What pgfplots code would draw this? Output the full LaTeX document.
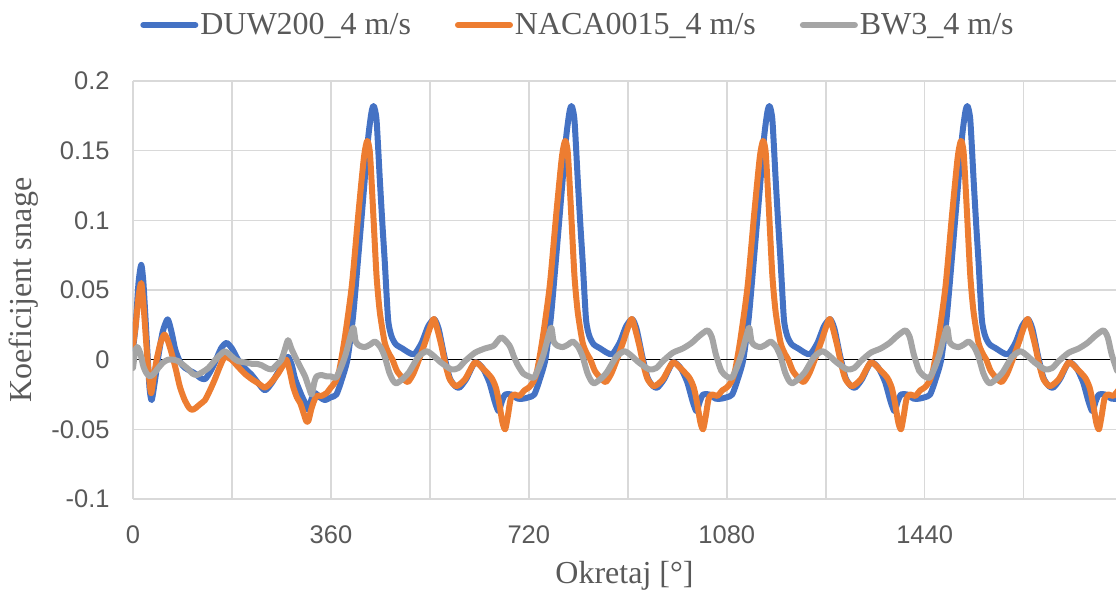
\documentclass[border=0pt]{standalone}
\usepackage{fontspec}
\setmainfont{Liberation Serif}
\newfontfamily\arialfont{Liberation Sans}
\usepackage{pgfplots}
\pgfplotsset{compat=1.18}
\definecolor{cblue}{HTML}{4472C4}
\definecolor{corange}{HTML}{ED7D31}
\definecolor{cgray}{HTML}{A5A5A5}
\definecolor{cgrid}{HTML}{D9D9D9}
\definecolor{ctext}{HTML}{595959}
\begin{document}
\begin{tikzpicture}
\begin{axis}[
 scale only axis, width=491.5pt, height=209pt,
 xmin=0, xmax=1788, ymin=-0.1, ymax=0.2,
 axis line style={draw=none},
 major tick length=0pt,
 xtick={0,180,...,1620},
 xticklabels={0,,360,,720,,1080,,1440,},
 ytick={-0.1,-0.05,0,0.05,0.1,0.15,0.2},
 yticklabels={-0.1,-0.05,0,0.05,0.1,0.15,0.2},
 grid=major, major grid style={cgrid, line width=0.8pt},
 extra y ticks={0}, extra y tick labels={},
 extra y tick style={major grid style={black, line width=0.6pt}},
 ticklabel style={font=\arialfont\fontsize{12.75}{14}\selectfont, text=ctext, inner sep=0pt},
 xticklabel style={yshift=-13pt},
 yticklabel style={xshift=-11.5pt},
 xlabel={Okretaj [°]}, ylabel={Koeficijent snage},
 label style={font=\fontsize{16}{19}\selectfont, text=ctext, inner sep=0pt},
 xlabel style={at={(axis description cs:0.5,-0.148)}, anchor=north},
 ylabel style={at={(axis description cs:-0.0956,0.5)}, anchor=south},
 legend columns=3,
 legend style={at={(axis description cs:0.4527,1.134)}, anchor=center, draw=none, fill=none,
   font=\fontsize{16}{19}\selectfont, text=ctext, nodes={inner sep=1pt},
   /tikz/every even column/.append style={column sep=21pt}},
 legend image code/.code={\draw[#1, line width=3pt, line cap=round] (0pt,0pt) -- (26pt,0pt);},
 every axis plot/.append style={line width=3pt, smooth, tension=0.4, line join=round, line cap=round},
]
\addplot[cblue] coordinates {
(0,0.008)(5,0.025)(10,0.055)(15,0.068)(19,0.055)(25,0.014)(30,-0.020)(34,-0.029)(40,-0.015)(46,0.002)(54,0.020)(63,0.029)(70,0.020)(77,0.007)(86,-0.002)(95,-0.006)(104,-0.008)(113,-0.010)(122,-0.013)(131,-0.014)(140,-0.009)(149,-0.002)(160,0.008)(170,0.012)(180,0.008)(191,0.000)(203,-0.006)(216,-0.011)(228,-0.017)(240,-0.022)(252,-0.017)(264,-0.009)(275,-0.002)(282,0.002)(289,-0.004)(295,-0.014)(307,-0.026)(313,-0.031)(319,-0.036)(325,-0.028)(331,-0.024)(340,-0.027)(349,-0.029)
(360,-0.027)(370,-0.025)(380,-0.014)(390,0.000)(400,0.030)(410,0.075)(420,0.122)(428,0.160)(434,0.178)(438,0.182)(443,0.172)(449,0.129)(454,0.095)(458,0.070)(464,0.029)(470,0.017)(478,0.011)(490,0.008)(502,0.005)(512,0.004)(525,0.012)(537,0.024)(548,0.029)(556,0.022)(566,0.003)(576,-0.013)(586,-0.019)(594,-0.020)(606,-0.014)(622,-0.002)(636,-0.006)(648,-0.016)(658,-0.030)(665,-0.037)(671,-0.030)(677,-0.025)(688,-0.025)(700,-0.028)(710,-0.028)
(720,-0.027)(730,-0.025)(740,-0.014)(750,0.000)(760,0.030)(770,0.075)(780,0.122)(788,0.160)(794,0.178)(798,0.182)(803,0.172)(809,0.129)(814,0.095)(818,0.070)(824,0.029)(830,0.017)(838,0.011)(850,0.008)(862,0.005)(872,0.004)(885,0.012)(897,0.024)(908,0.029)(916,0.022)(926,0.003)(936,-0.013)(946,-0.019)(954,-0.020)(966,-0.014)(982,-0.002)(996,-0.006)(1008,-0.016)(1018,-0.030)(1025,-0.037)(1031,-0.030)(1037,-0.025)(1048,-0.025)(1060,-0.028)(1070,-0.028)
(1080,-0.027)(1090,-0.025)(1100,-0.014)(1110,0.000)(1120,0.030)(1130,0.075)(1140,0.122)(1148,0.160)(1154,0.178)(1158,0.182)(1163,0.172)(1169,0.129)(1174,0.095)(1178,0.070)(1184,0.029)(1190,0.017)(1198,0.011)(1210,0.008)(1222,0.005)(1232,0.004)(1245,0.012)(1257,0.024)(1268,0.029)(1276,0.022)(1286,0.003)(1296,-0.013)(1306,-0.019)(1314,-0.020)(1326,-0.014)(1342,-0.002)(1356,-0.006)(1368,-0.016)(1378,-0.030)(1385,-0.037)(1391,-0.030)(1397,-0.025)(1408,-0.025)(1420,-0.028)(1430,-0.028)
(1440,-0.027)(1450,-0.025)(1460,-0.014)(1470,0.000)(1480,0.030)(1490,0.075)(1500,0.122)(1508,0.160)(1514,0.178)(1518,0.182)(1523,0.172)(1529,0.129)(1534,0.095)(1538,0.070)(1544,0.029)(1550,0.017)(1558,0.011)(1570,0.008)(1582,0.005)(1592,0.004)(1605,0.012)(1617,0.024)(1628,0.029)(1636,0.022)(1646,0.003)(1656,-0.013)(1666,-0.019)(1674,-0.020)(1686,-0.014)(1702,-0.002)(1716,-0.006)(1728,-0.016)(1738,-0.030)(1745,-0.037)(1751,-0.030)(1757,-0.025)(1768,-0.025)(1780,-0.028)(1790,-0.028)
};
\addlegendentry{DUW200\_4 m/s}
\addplot[corange] coordinates {
(0,0.010)(5,0.025)(10,0.045)(15,0.055)(19,0.040)(25,0.007)(29,-0.012)(33,-0.024)(38,-0.012)(43,0.000)(50,0.012)(57,0.018)(63,0.014)(70,0.005)(78,-0.007)(85,-0.019)(93,-0.028)(101,-0.034)(107,-0.036)(113,-0.035)(122,-0.032)(131,-0.029)(140,-0.022)(149,-0.014)(158,-0.005)(167,0.002)(179,0.000)(191,-0.005)(203,-0.010)(216,-0.014)(228,-0.017)(240,-0.020)(252,-0.016)(264,-0.010)(273,-0.004)(279,0.000)(285,-0.008)(291,-0.019)(298,-0.027)(304,-0.031)(310,-0.038)(315,-0.044)(319,-0.044)(324,-0.036)(328,-0.031)(334,-0.026)(343,-0.026)(352,-0.024)
(360,-0.020)(368,-0.016)(375,-0.008)(385,0.015)(398,0.053)(410,0.105)(420,0.145)(426,0.157)(431,0.148)(437,0.105)(443,0.060)(449,0.034)(458,0.012)(466,0.004)(472,0.000)(480,-0.008)(490,-0.013)(500,-0.016)(510,-0.010)(520,0.000)(531,0.012)(546,0.029)(552,0.024)(561,0.010)(568,-0.003)(576,-0.014)(588,-0.019)(604,-0.014)(622,-0.002)(638,-0.007)(652,-0.013)(660,-0.020)(666,-0.031)(672,-0.045)(677,-0.050)(682,-0.040)(687,-0.028)(693,-0.025)(703,-0.026)(712,-0.022)
(720,-0.020)(728,-0.016)(735,-0.008)(745,0.015)(758,0.053)(770,0.105)(780,0.145)(786,0.157)(791,0.148)(797,0.105)(803,0.060)(809,0.034)(818,0.012)(826,0.004)(832,0.000)(840,-0.008)(850,-0.013)(860,-0.016)(870,-0.010)(880,0.000)(891,0.012)(906,0.029)(912,0.024)(921,0.010)(928,-0.003)(936,-0.014)(948,-0.019)(964,-0.014)(982,-0.002)(998,-0.007)(1012,-0.013)(1020,-0.020)(1026,-0.031)(1032,-0.045)(1037,-0.050)(1042,-0.040)(1047,-0.028)(1053,-0.025)(1063,-0.026)(1072,-0.022)
(1080,-0.020)(1088,-0.016)(1095,-0.008)(1105,0.015)(1118,0.053)(1130,0.105)(1140,0.145)(1146,0.157)(1151,0.148)(1157,0.105)(1163,0.060)(1169,0.034)(1178,0.012)(1186,0.004)(1192,0.000)(1200,-0.008)(1210,-0.013)(1220,-0.016)(1230,-0.010)(1240,0.000)(1251,0.012)(1266,0.029)(1272,0.024)(1281,0.010)(1288,-0.003)(1296,-0.014)(1308,-0.019)(1324,-0.014)(1342,-0.002)(1358,-0.007)(1372,-0.013)(1380,-0.020)(1386,-0.031)(1392,-0.045)(1397,-0.050)(1402,-0.040)(1407,-0.028)(1413,-0.025)(1423,-0.026)(1432,-0.022)
(1440,-0.020)(1448,-0.016)(1455,-0.008)(1465,0.015)(1478,0.053)(1490,0.105)(1500,0.145)(1506,0.157)(1511,0.148)(1517,0.105)(1523,0.060)(1529,0.034)(1538,0.012)(1546,0.004)(1552,0.000)(1560,-0.008)(1570,-0.013)(1580,-0.016)(1590,-0.010)(1600,0.000)(1611,0.012)(1626,0.029)(1632,0.024)(1641,0.010)(1648,-0.003)(1656,-0.014)(1668,-0.019)(1684,-0.014)(1702,-0.002)(1718,-0.007)(1732,-0.013)(1740,-0.020)(1746,-0.031)(1752,-0.045)(1757,-0.050)(1762,-0.040)(1767,-0.028)(1773,-0.025)(1783,-0.026)(1792,-0.022)
};
\addlegendentry{NACA0015\_4 m/s}
\addplot[cgray] coordinates {
(0,-0.006)(4,0.006)(8,0.009)(13,0.005)(19,-0.005)(25,-0.010)(31,-0.012)(38,-0.010)(46,-0.006)(55,-0.002)(64,0.000)(73,0.000)(82,-0.001)(92,-0.004)(101,-0.007)(108,-0.010)(116,-0.011)(126,-0.009)(137,-0.006)(150,0.000)(160,0.004)(167,0.006)(175,0.004)(183,0.001)(191,-0.001)(204,-0.002)(216,-0.003)(225,-0.003)(234,-0.004)(243,-0.006)(252,-0.007)(261,-0.004)(270,0.000)(276,0.007)(282,0.014)(288,0.008)(295,0.002)(304,-0.005)(313,-0.012)(320,-0.020)(325,-0.025)(330,-0.016)(334,-0.012)(343,-0.011)(352,-0.012)
(360,-0.012)(369,-0.013)(378,-0.006)(387,0.004)(395,0.016)(401,0.023)(405,0.013)(412,0.010)(422,0.009)(432,0.011)(440,0.013)(450,0.009)(458,0.002)(466,-0.009)(473,-0.015)(479,-0.017)(490,-0.014)(502,-0.009)(519,0.002)(534,0.006)(546,0.003)(560,-0.002)(579,-0.007)(592,-0.006)(604,-0.001)(622,0.005)(640,0.008)(656,0.010)(670,0.016)(685,0.010)(693,0.002)(700,-0.004)(710,-0.010)
(720,-0.012)(729,-0.013)(738,-0.006)(747,0.004)(755,0.016)(761,0.023)(765,0.013)(772,0.010)(782,0.009)(792,0.011)(800,0.013)(810,0.009)(818,0.002)(826,-0.009)(833,-0.015)(839,-0.017)(850,-0.014)(862,-0.009)(879,0.002)(894,0.006)(906,0.003)(920,-0.002)(939,-0.007)(952,-0.006)(964,-0.001)(982,0.005)(1000,0.008)(1016,0.012)(1030,0.017)(1045,0.021)(1053,0.016)(1060,0.004)(1070,-0.008)
(1080,-0.012)(1089,-0.013)(1098,-0.006)(1107,0.004)(1115,0.016)(1121,0.023)(1125,0.013)(1132,0.010)(1142,0.009)(1152,0.011)(1160,0.013)(1170,0.009)(1178,0.002)(1186,-0.009)(1193,-0.015)(1199,-0.017)(1210,-0.014)(1222,-0.009)(1239,0.002)(1254,0.006)(1266,0.003)(1280,-0.002)(1299,-0.007)(1312,-0.006)(1324,-0.001)(1342,0.005)(1360,0.008)(1376,0.012)(1390,0.017)(1405,0.021)(1413,0.016)(1420,0.004)(1430,-0.008)
(1440,-0.012)(1449,-0.013)(1458,-0.006)(1467,0.004)(1475,0.016)(1481,0.023)(1485,0.013)(1492,0.010)(1502,0.009)(1512,0.011)(1520,0.013)(1530,0.009)(1538,0.002)(1546,-0.009)(1553,-0.015)(1559,-0.017)(1570,-0.014)(1582,-0.009)(1599,0.002)(1614,0.006)(1626,0.003)(1640,-0.002)(1659,-0.007)(1672,-0.006)(1684,-0.001)(1702,0.005)(1720,0.008)(1736,0.012)(1750,0.017)(1765,0.021)(1773,0.016)(1780,0.004)(1790,-0.008)
};
\addlegendentry{BW3\_4 m/s}
\end{axis}
\pgfresetboundingbox
\path[use as bounding box] ([xshift=-66.5pt, yshift=-46.5pt]current axis.south west) rectangle ++(558pt,296pt);
\end{tikzpicture}
\end{document}
